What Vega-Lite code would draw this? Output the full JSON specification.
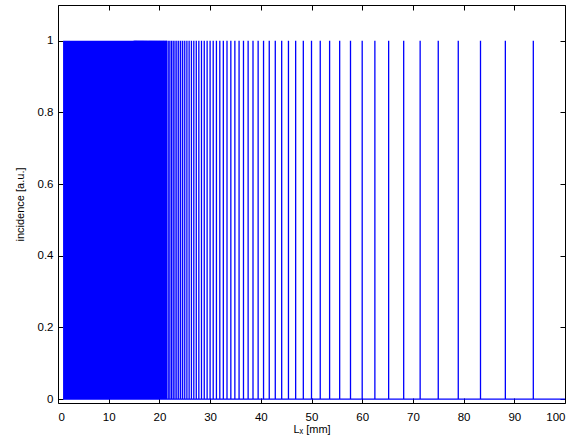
{
  "$schema": "https://vega.github.io/schema/vega-lite/v6.json",
  "width": 507,
  "height": 398,
  "autosize": {"type": "none"},
  "padding": {"left": 58, "top": 5, "right": 22, "bottom": 42},
  "background": "white",
  "config": {
    "view": {"stroke": "black", "strokeWidth": 1},
    "axis": {
      "grid": false,
      "domain": false,
      "tickColor": "black",
      "tickSize": -5,
      "tickWidth": 1,
      "labelFont": "Liberation Sans",
      "labelFontSize": 11.5,
      "labelColor": "black",
      "titleFont": "Liberation Sans",
      "titleFontSize": 11,
      "titleFontWeight": "normal",
      "titleColor": "black"
    }
  },
  "datasets": {
    "events": [
      {"x": 93.75, "incidence": 1}, {"x": 88.235, "incidence": 1}, {"x": 83.333, "incidence": 1}, {"x": 78.947, "incidence": 1},
      {"x": 75, "incidence": 1}, {"x": 71.429, "incidence": 1}, {"x": 68.182, "incidence": 1}, {"x": 65.217, "incidence": 1},
      {"x": 62.5, "incidence": 1}, {"x": 60, "incidence": 1}, {"x": 57.692, "incidence": 1}, {"x": 55.556, "incidence": 1},
      {"x": 53.571, "incidence": 1}, {"x": 51.724, "incidence": 1}, {"x": 50, "incidence": 1}, {"x": 48.387, "incidence": 1},
      {"x": 46.875, "incidence": 1}, {"x": 45.455, "incidence": 1}, {"x": 44.118, "incidence": 1}, {"x": 42.857, "incidence": 1},
      {"x": 41.667, "incidence": 1}, {"x": 40.541, "incidence": 1}, {"x": 39.474, "incidence": 1}, {"x": 38.462, "incidence": 1},
      {"x": 37.5, "incidence": 1}, {"x": 36.585, "incidence": 1}, {"x": 35.714, "incidence": 1}, {"x": 34.884, "incidence": 1},
      {"x": 34.091, "incidence": 1}, {"x": 33.333, "incidence": 1}, {"x": 32.609, "incidence": 1}, {"x": 31.915, "incidence": 1},
      {"x": 31.25, "incidence": 1}, {"x": 30.612, "incidence": 1}, {"x": 30, "incidence": 1}, {"x": 29.412, "incidence": 1},
      {"x": 28.846, "incidence": 1}, {"x": 28.302, "incidence": 1}, {"x": 27.778, "incidence": 1}, {"x": 27.273, "incidence": 1},
      {"x": 26.786, "incidence": 1}, {"x": 26.316, "incidence": 1}, {"x": 25.862, "incidence": 1}, {"x": 25.424, "incidence": 1},
      {"x": 25, "incidence": 1}, {"x": 24.59, "incidence": 1}, {"x": 24.194, "incidence": 1}, {"x": 23.81, "incidence": 1},
      {"x": 23.438, "incidence": 1}, {"x": 23.077, "incidence": 1}, {"x": 22.727, "incidence": 1}, {"x": 22.388, "incidence": 1},
      {"x": 22.059, "incidence": 1}, {"x": 21.739, "incidence": 1}, {"x": 21.429, "incidence": 1}, {"x": 21.127, "incidence": 1},
      {"x": 20.833, "incidence": 1}, {"x": 20.548, "incidence": 1}, {"x": 20.27, "incidence": 1}, {"x": 20, "incidence": 1},
      {"x": 19.737, "incidence": 1}, {"x": 19.481, "incidence": 1}, {"x": 19.231, "incidence": 1}, {"x": 18.987, "incidence": 1},
      {"x": 18.75, "incidence": 1}, {"x": 18.519, "incidence": 1}, {"x": 18.293, "incidence": 1}, {"x": 18.072, "incidence": 1},
      {"x": 17.857, "incidence": 1}, {"x": 17.647, "incidence": 1}, {"x": 17.442, "incidence": 1}, {"x": 17.241, "incidence": 1},
      {"x": 17.045, "incidence": 1}, {"x": 16.854, "incidence": 1}, {"x": 16.667, "incidence": 1}, {"x": 16.484, "incidence": 1},
      {"x": 16.304, "incidence": 1}, {"x": 16.129, "incidence": 1}, {"x": 15.957, "incidence": 1}, {"x": 15.789, "incidence": 1},
      {"x": 15.625, "incidence": 1}, {"x": 15.464, "incidence": 1}, {"x": 15.306, "incidence": 1}, {"x": 15.152, "incidence": 1},
      {"x": 15, "incidence": 1}
    ],
    "dense": [{"x": 1, "x2": 21.5, "incidence": 1}],
    "baseline": [{"x": 1, "x2": 100, "incidence": 0}]
  },
  "layer": [
    {
      "data": {"name": "dense"},
      "mark": {"type": "rect", "color": "#0000ff", "strokeWidth": 0},
      "encoding": {
        "x": {
          "field": "x", "type": "quantitative",
          "scale": {"domain": [0, 100], "nice": false, "zero": false},
          "axis": {"orient": "bottom", "values": [0,10,20,30,40,50,60,70,80,90,100], "format": "d", "labelPadding": 13, "title": "Lₓ [mm]", "titlePadding": 1}
        },
        "x2": {"field": "x2"},
        "y": {
          "field": "incidence", "type": "quantitative",
          "scale": {"domain": [-0.011, 1.1], "nice": false, "zero": false},
          "axis": {"orient": "left", "values": [0, 0.2, 0.4, 0.6, 0.8, 1], "format": "~g", "labelPadding": 10, "title": "incidence [a.u.]", "titlePadding": 12}
        },
        "y2": {"datum": 0}
      }
    },
    {
      "data": {"name": "events"},
      "mark": {"type": "rule", "color": "#0000ff", "strokeWidth": 1.3},
      "encoding": {
        "x": {"field": "x", "type": "quantitative", "axis": {"orient": "top", "values": [0,10,20,30,40,50,60,70,80,90,100], "labels": false, "title": null}},
        "y": {"field": "incidence", "type": "quantitative", "axis": {"orient": "right", "values": [0, 0.2, 0.4, 0.6, 0.8, 1], "labels": false, "title": null}},
        "y2": {"datum": 0}
      }
    },
    {
      "data": {"name": "baseline"},
      "mark": {"type": "rule", "color": "#0000ff", "strokeWidth": 1.3},
      "encoding": {
        "x": {"field": "x", "type": "quantitative", "axis": null},
        "x2": {"field": "x2"},
        "y": {"field": "incidence", "type": "quantitative", "axis": null}
      }
    }
  ],
  "resolve": {"axis": {"x": "independent", "y": "independent"}}
}
